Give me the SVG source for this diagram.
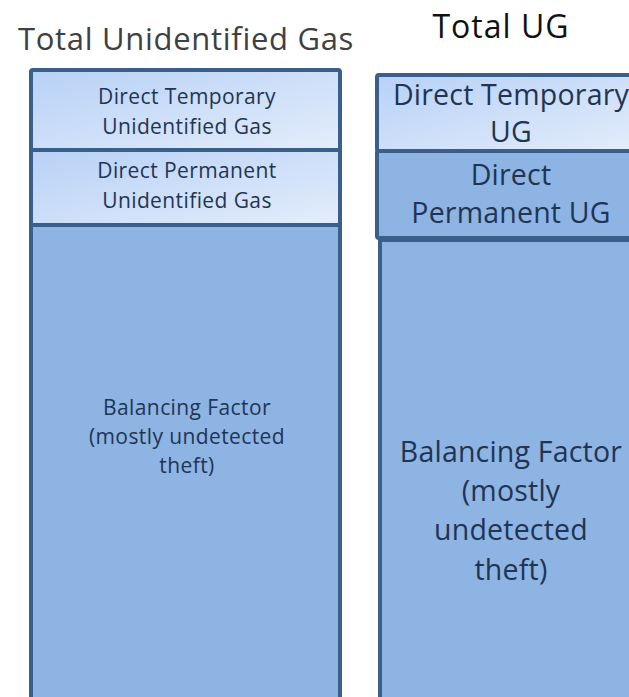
<svg xmlns="http://www.w3.org/2000/svg" width="629" height="697" viewBox="0 0 629 697">
<defs>
<linearGradient id="light" x1="0" y1="0" x2="1" y2="1">
<stop offset="0" stop-color="#b7d1f6"/>
<stop offset="1" stop-color="#e4edfb"/>
</linearGradient>
</defs>
<style>
.box{stroke:#3a5f8b;stroke-width:4}
.lt{fill:url(#light)}
.dk{fill:#8eb4e3}
.t{font-family:"Open Sans","DejaVu Sans",sans-serif;fill:#1f3553;text-anchor:middle}
.s{font-size:21px;letter-spacing:0.4px}
.b{font-size:28.5px;letter-spacing:0.2px}
.title{font-family:"Open Sans","DejaVu Sans",sans-serif;text-anchor:middle}
</style>
<g id="title-left"><text class="title" x="186" y="50" font-size="31" letter-spacing="0.7" fill="#404040">Total Unidentified Gas</text></g>
<g id="title-right"><text class="title" x="501" y="38" font-size="32" letter-spacing="1" fill="#111">Total UG</text></g>
<g id="left-balancing">
<rect class="box dk" x="31" y="225" width="309" height="500" rx="2"/>
<text class="t s" x="187" y="415">Balancing Factor</text>
<text class="t s" x="187" y="444">(mostly undetected</text>
<text class="t s" x="187" y="473">theft)</text>
</g>
<g id="left-permanent">
<rect class="box lt" x="31" y="150" width="309" height="75"/>
<text class="t s" x="187" y="178">Direct Permanent</text>
<text class="t s" x="187" y="208">Unidentified  Gas</text>
</g>
<g id="left-temporary">
<rect class="box lt" x="31" y="70" width="309" height="80" rx="2"/>
<text class="t s" x="187" y="104">Direct Temporary</text>
<text class="t s" x="187" y="134">Unidentified  Gas</text>
</g>
<g id="right-balancing">
<rect class="box dk" x="380" y="240" width="270" height="500"/>
<text class="t b" x="511" y="462">Balancing Factor</text>
<text class="t b" x="511" y="501">(mostly</text>
<text class="t b" x="511" y="540">undetected</text>
<text class="t b" x="511" y="580">theft)</text>
</g>
<g id="right-permanent">
<rect class="box dk" x="377" y="151" width="270" height="87" rx="2"/>
<text class="t b" x="511" y="185">Direct</text>
<text class="t b" x="511" y="223">Permanent UG</text>
</g>
<g id="right-temporary">
<rect class="box lt" x="377" y="75" width="270" height="76" rx="2"/>
<text class="t b" x="511" y="105">Direct Temporary</text>
<text class="t b" x="511" y="142">UG</text>
</g>
<g id="connectors"/>
</svg>
